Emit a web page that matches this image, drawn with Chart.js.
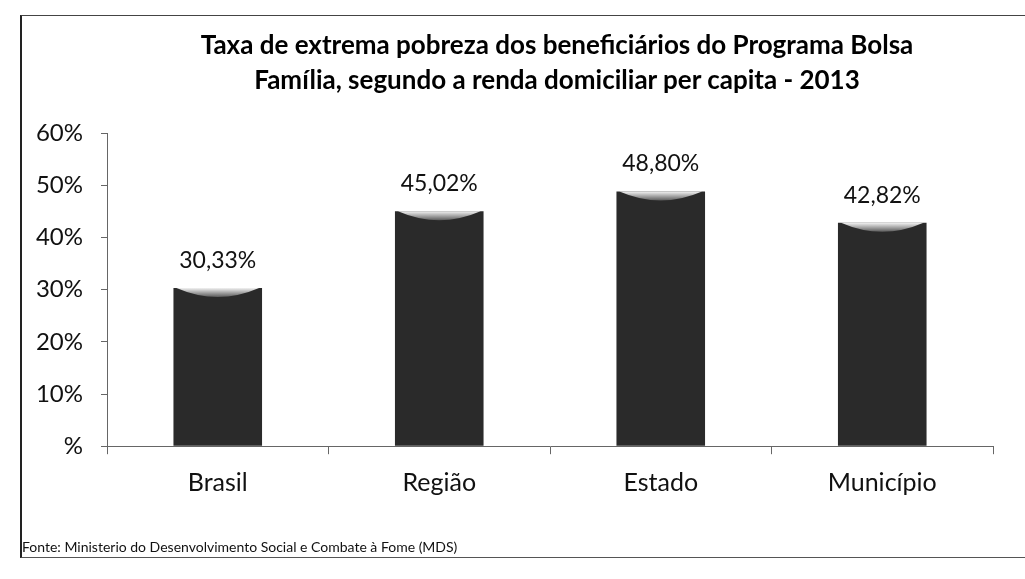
<!DOCTYPE html>
<html>
<head>
<meta charset="utf-8">
<script src="https://cdn.jsdelivr.net/npm/chart.js@4.4.1/dist/chart.umd.min.js"></script>
<style>
  html, body { margin: 0; padding: 0; background: #fff; }
  .box {
    position: absolute; left: 20px; top: 15px; width: 1005px; height: 543px;
    border-left: 2px solid #222; border-top: 1px solid #444; border-bottom: 1px solid #555;
    box-sizing: border-box;
  }
  .inner { position: relative; width: 100%; height: 100%; }
  .title {
    position: absolute; left: 0; top: 27px; width: 1114px; text-align: center;
    font: bold 26px/35px Lato, "Open Sans", sans-serif; color: #000;
  }
  canvas { display: block; }
</style>
</head>
<body>
<div class="box"><div class="inner"><canvas id="myChart"></canvas></div></div>
<div class="title" id="title"></div>
<script>
const categories = ["Brasil", "Região", "Estado", "Município"];
const values = [30.33, 45.02, 48.80, 42.82];
const tickValues = [0, 10, 20, 30, 40, 50, 60];
const titleLines = [
  "Taxa de extrema pobreza dos beneficiários do Programa Bolsa",
  "Família, segundo a renda domiciliar per capita - 2013"
];
const sourceNote = "Fonte: Ministerio do Desenvolvimento Social e Combate à Fome (MDS)";

const fontFamily = "Lato, 'Open Sans', sans-serif";

document.getElementById("title").innerHTML = titleLines.join("<br>");

function fmt(v) {
  return v.toFixed(2).replace(".", ",") + "%";
}

// value labels + cylinder-ish top highlight
const barDecor = {
  id: "barDecor",
  afterDatasetsDraw(chart) {
    const ctx = chart.ctx;
    const meta = chart.getDatasetMeta(0);
    meta.data.forEach((bar, i) => {
      const half = bar.width / 2;
      const g = ctx.createLinearGradient(0, bar.y, 0, bar.y + 12);
      g.addColorStop(0, "rgba(255,255,255,0.95)");
      g.addColorStop(1, "rgba(255,255,255,0)");
      ctx.save();
      ctx.fillStyle = g;
      ctx.beginPath();
      ctx.moveTo(bar.x - half + 3, bar.y);
      ctx.lineTo(bar.x + half - 3, bar.y);
      ctx.quadraticCurveTo(bar.x, bar.y + 18, bar.x - half + 3, bar.y);
      ctx.fill();
      ctx.restore();

      ctx.save();
      ctx.fillStyle = "#111";
      ctx.font = "23px " + fontFamily;
      ctx.textAlign = "center";
      ctx.textBaseline = "bottom";
      ctx.fillText(fmt(values[i]), bar.x, bar.y - 16);
      ctx.restore();
    });
  }
};

const config = {
  type: "bar",
  data: {
    labels: categories,
    datasets: [{
      data: values,
      backgroundColor: function (context) {
        const c = context.chart;
        const bar = context.element;
        if (!bar || !c.chartArea || !Number.isFinite(bar.x) || !Number.isFinite(bar.width)) return "#2a2a2a";
        const half = bar.width / 2;
        const g = c.ctx.createLinearGradient(bar.x - half, 0, bar.x + half, 0);
        g.addColorStop(0, "#0d0d0d");
        g.addColorStop(0.5, "#3a3a3a");
        g.addColorStop(1, "#111");
        return g;
      },
      borderWidth: 0,
      barPercentage: 0.4,
      categoryPercentage: 1
    }]
  },
  options: {
    responsive: true,
    maintainAspectRatio: false,
    animation: false,
    layout: { padding: { left: 0, right: 32, top: 117, bottom: 0 } },
    plugins: {
      legend: { display: false },
      tooltip: { enabled: false },
      title: { display: false },
      subtitle: {
        display: true,
        position: "bottom",
        align: "start",
        text: sourceNote,
        color: "#111",
        font: { family: fontFamily, size: 14 },
        padding: { top: 27, bottom: 1 }
      }
    },
    scales: {
      x: {
        grid: { drawOnChartArea: false, drawTicks: true, tickLength: 8, color: "#666" },
        border: { display: true, color: "#666", width: 1 },
        ticks: {
          color: "#111",
          padding: 14,
          font: { family: fontFamily, size: 25 }
        }
      },
      y: {
        min: 0,
        max: 60,
        afterFit(scale) { scale.width = 85; },
        afterBuildTicks(scale) { scale.ticks = tickValues.map(v => ({ value: v })); },
        grid: { drawOnChartArea: false, drawTicks: true, tickLength: 6, color: "#666" },
        border: { display: true, color: "#666", width: 1 },
        ticks: {
          color: "#111",
          padding: 18,
          font: { family: fontFamily, size: 24 },
          callback: v => (v === 0 ? "%" : v + "%")
        }
      }
    }
  },
  plugins: [barDecor]
};

const ctx = document.getElementById("myChart").getContext("2d");
new Chart(ctx, config);
</script>
</body>
</html>
